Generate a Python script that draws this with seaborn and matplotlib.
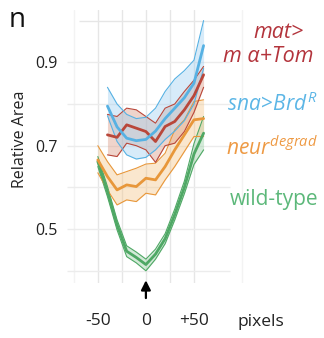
import matplotlib
matplotlib.use("Agg")
import matplotlib.pyplot as plt
import seaborn as sns
import pandas as pd

# x positions (pixels from the landmark)
x_long = [-50, -40, -30, -20, -10, 0, 10, 20, 30, 40, 50, 60]
x_short = [-40, -30, -20, -10, 0, 10, 20, 30, 40, 50, 60]

# wild-type
wt_mean = [0.662, 0.590, 0.510, 0.447, 0.432, 0.415, 0.440, 0.477, 0.535, 0.600, 0.680, 0.730]
wt_hi = [0.674, 0.602, 0.522, 0.460, 0.445, 0.428, 0.452, 0.489, 0.548, 0.615, 0.705, 0.770]
wt_lo = [0.650, 0.578, 0.498, 0.434, 0.419, 0.400, 0.428, 0.465, 0.522, 0.585, 0.655, 0.690]

# neur degrad
neur_mean = [0.666, 0.626, 0.594, 0.606, 0.602, 0.622, 0.618, 0.650, 0.690, 0.726, 0.762, 0.765]
neur_hi = [0.700, 0.662, 0.630, 0.638, 0.646, 0.656, 0.658, 0.682, 0.738, 0.762, 0.806, 0.810]
neur_lo = [0.635, 0.594, 0.558, 0.570, 0.566, 0.586, 0.582, 0.618, 0.650, 0.686, 0.722, 0.722]

# mat > m alpha + Tom
mat_mean = [0.726, 0.720, 0.750, 0.742, 0.734, 0.710, 0.746, 0.758, 0.786, 0.820, 0.870]
mat_hi = [0.775, 0.770, 0.790, 0.786, 0.770, 0.754, 0.790, 0.800, 0.830, 0.857, 0.890]
mat_lo = [0.678, 0.674, 0.706, 0.700, 0.690, 0.660, 0.700, 0.706, 0.734, 0.780, 0.840]

# sna > Brd R
sna_mean = [0.795, 0.745, 0.718, 0.712, 0.715, 0.735, 0.765, 0.790, 0.815, 0.850, 0.940]
sna_hi = [0.840, 0.800, 0.775, 0.765, 0.768, 0.790, 0.830, 0.860, 0.880, 0.905, 1.000]
sna_lo = [0.772, 0.710, 0.678, 0.668, 0.672, 0.690, 0.715, 0.735, 0.760, 0.800, 0.885]

series = [
    ("wild-type", x_long, wt_mean, wt_lo, wt_hi, "#4fa865", "#92cc9f"),
    ("neur", x_long, neur_mean, neur_lo, neur_hi, "#e8973a", "#f3c486"),
    ("mat", x_short, mat_mean, mat_lo, mat_hi, "#b9473a", "#d8957f"),
    ("sna", x_short, sna_mean, sna_lo, sna_hi, "#56b1e3", "#9ccdf0"),
]

sns.set_theme(style="white")
plt.rcParams['font.family'] = ['Open Sans', 'DejaVu Sans']
plt.rcParams['mathtext.fontset'] = 'custom'
plt.rcParams['mathtext.rm'] = 'Open Sans'
plt.rcParams['mathtext.it'] = 'Open Sans:italic'

fig = plt.figure(figsize=(3.24, 3.38), dpi=100)
ax = fig.add_axes([0.207, 0.163, 0.546, 0.807])

# light grid drawn by hand (the panel has uneven grid extents)
for gx in [-50, -25, 0, 25, 50]:
    ax.axvline(gx, color="#e6e6e6", lw=1, zorder=0)
for gx in [-75, 100]:
    ax.axvline(gx, color="#f3f3f3", lw=1, zorder=0)
for gy in [0.4, 0.5, 0.6, 0.7, 0.8, 0.9]:
    ax.hlines(gy, -82, 87, color="#ececec", lw=1, zorder=0)
ax.hlines(1.0, -70, 98, color="#e6e6e6", lw=1, zorder=0)

for name, xs, m, lo, hi, c, fc in series:
    ax.fill_between(xs, lo, hi, color=fc, alpha=0.4, lw=0, zorder=2)
    ax.plot(xs, lo, color=c, lw=0.8, zorder=3)
    ax.plot(xs, hi, color=c, lw=0.8, zorder=3)
    df = pd.DataFrame({"x": xs, "y": m})
    sns.lineplot(data=df, x="x", y="y", color=c, lw=2.0, ax=ax, zorder=4)

ax.set_xlim(-82, 102)
ax.set_ylim(0.371, 1.025)
ax.set_xticks([-50, 0, 50])
ax.set_xticklabels(["-50", "0", "+50"])
ax.set_yticks([0.5, 0.7, 0.9])
ax.set_yticklabels(["0.5", "0.7", "0.9"])
ax.tick_params(axis="x", length=0, pad=22, labelsize=12.5, labelcolor="#222222")
ax.tick_params(axis="y", length=0, pad=7, labelsize=11.5, labelcolor="#222222")
ax.set_xlabel("")
ax.set_ylabel("")
for s in ax.spines.values():
    s.set_visible(False)

ax.annotate("", xy=(0, 0.384), xytext=(0, 0.328),
            arrowprops=dict(arrowstyle="-|>", color="black", lw=1.6, mutation_scale=14),
            annotation_clip=False)

fig.text(20 / 324, 1 - 139 / 338, "Relative Area", rotation=90, ha="center", va="center",
         fontsize=11.5, color="#222222")
fig.text(261 / 324, 1 - 322 / 338, "pixels", ha="center", va="center", fontsize=12.5, color="#222222")
fig.text(17 / 324, 1 - 20 / 338, "n", ha="center", va="center", fontsize=20, color="#111111")

fig.text(279 / 324, 1 - 32 / 338, "mat>", ha="center", va="center", fontsize=15.5,
         style="italic", color="#b3343c")
fig.text(268 / 324, 1 - 56 / 338, "m α+Tom", ha="center", va="center", fontsize=15.5,
         style="italic", color="#b3343c")
fig.text(272 / 324, 1 - 104 / 338, r"$\mathit{sna\!>\!Brd}^{\mathit{R}}$", ha="center", va="center",
         fontsize=15, color="#5cb6e6")
fig.text(272 / 324, 1 - 148 / 338, r"$\mathit{neur}^{\mathit{degrad}}$", ha="center", va="center",
         fontsize=15, color="#ee9a44")
fig.text(274 / 324, 1 - 199 / 338, "wild-type", ha="center", va="center", fontsize=15,
         color="#5cb87a")

fig.savefig("out.png", dpi=100)
